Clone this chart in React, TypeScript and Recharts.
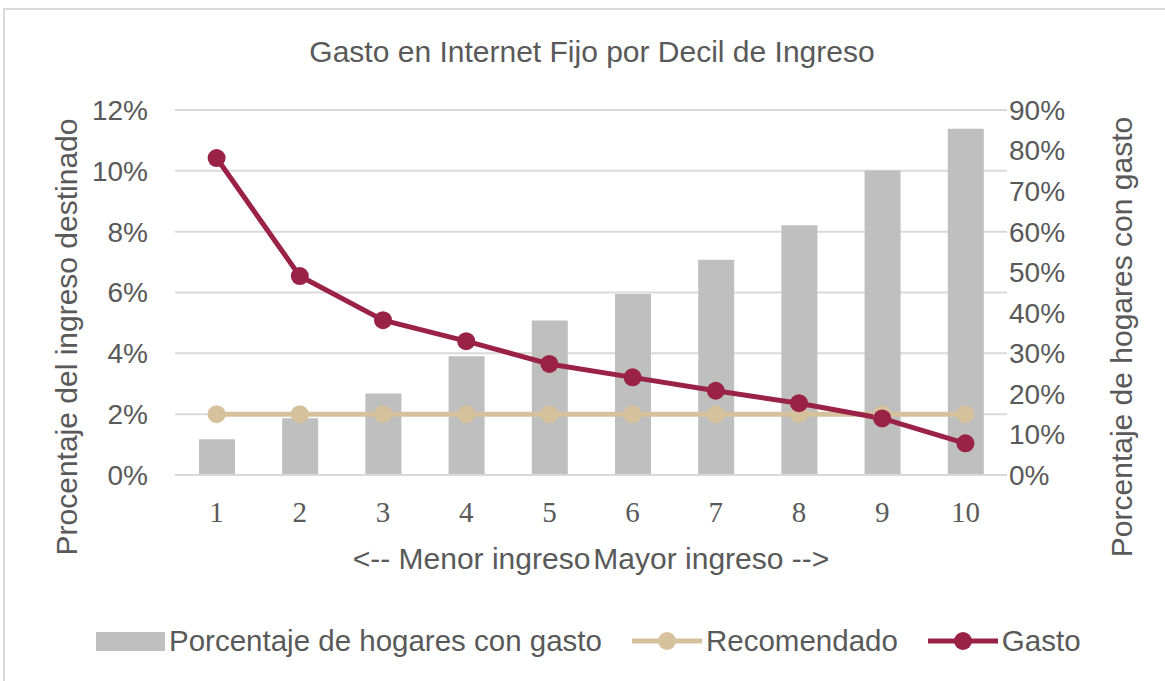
import { ComposedChart, Bar, Line, XAxis, YAxis, CartesianGrid } from 'recharts';

const deciles = ['1', '2', '3', '4', '5', '6', '7', '8', '9', '10'];
const hogaresConGasto = [8.8, 14.0, 20.1, 29.3, 38.1, 44.6, 53.1, 61.6, 75.1, 85.4];
const gasto = [10.42, 6.54, 5.09, 4.4, 3.65, 3.21, 2.77, 2.36, 1.86, 1.04];
const recomendado = [2, 2, 2, 2, 2, 2, 2, 2, 2, 2];
const leftTicks = [0, 2, 4, 6, 8, 10, 12];
const rightTicks = [0, 10, 20, 30, 40, 50, 60, 70, 80, 90];

const data = deciles.map((d, i) => ({
  decil: d,
  hogares: hogaresConGasto[i],
  recomendado: recomendado[i],
  gasto: gasto[i],
}));

const FONT = '"Liberation Sans", Arial, sans-serif';
const TEXT = '#595959';
const GRAY = '#bfbfbf';
const BEIGE = '#d5c29d';
const MAROON = '#9b2247';

const rotatedTitle = (text: string, x: number, y: number) => () => (
  <text
    x={x}
    y={y}
    transform={`rotate(-90 ${x} ${y})`}
    textAnchor="middle"
    dominantBaseline="central"
    fill={TEXT}
    fontSize={30}
    fontFamily={FONT}
  >
    {text}
  </text>
);

const xTitle = () => (
  <text x={591} y={558} textAnchor="middle" dominantBaseline="central" fill={TEXT} fontSize={30} fontFamily={FONT}>
    {'<-- Menor ingreso'}
    <tspan dx={3}>{'Mayor ingreso -->'}</tspan>
  </text>
);

function LegendItem({ kind, color, label }: { kind: 'bar' | 'line'; color: string; label: string }) {
  return (
    <div style={{ display: 'flex', alignItems: 'center', gap: 4 }}>
      {kind === 'bar' ? (
        <div style={{ width: 69, height: 19, background: color }} />
      ) : (
        <svg width={70} height={20}>
          <line x1={0} y1={10} x2={70} y2={10} stroke={color} strokeWidth={5} />
          <circle cx={35} cy={10} r={9} fill={color} />
        </svg>
      )}
      <span style={{ fontSize: 29.5, color: TEXT, fontFamily: FONT, lineHeight: '30px' }}>{label}</span>
    </div>
  );
}

export default function App() {
  return (
    <div style={{ position: 'absolute', left: 0, top: 0, width: 1165, height: 681, background: '#fff', overflow: 'hidden' }}>
      <div
        style={{
          position: 'absolute',
          left: 3,
          top: 8,
          width: 1170,
          height: 690,
          borderTop: '2px solid #d9d9d9',
          borderLeft: '2px solid #d9d9d9',
        }}
      />
      <div
        style={{
          position: 'absolute',
          top: 37,
          left: 0,
          width: 1184,
          textAlign: 'center',
          fontSize: 30,
          color: TEXT,
          fontFamily: FONT,
          lineHeight: '30px',
        }}
      >
        Gasto en Internet Fijo por Decil de Ingreso
      </div>
      <div style={{ position: 'absolute', left: 0, top: 0 }}>
        <ComposedChart
          width={1165}
          height={681}
          data={data}
          margin={{ top: 110, right: 0, bottom: 0, left: 0 }}
        >
          <CartesianGrid yAxisId="left" vertical={false} stroke="#d9d9d9" strokeWidth={2} />
          <XAxis
            dataKey="decil"
            height={206}
            axisLine={{ stroke: '#d9d9d9', strokeWidth: 2 }}
            tickLine={false}
            tickSize={0}
            tickMargin={26}
            tick={{ fill: TEXT, fontSize: 29, fontFamily: '"Liberation Serif", "DejaVu Serif", serif' }}
            label={xTitle}
          />
          <YAxis
            yAxisId="left"
            orientation="left"
            width={175}
            domain={[0, 12]}
            ticks={leftTicks}
            tickFormatter={(v) => `${v}%`}
            axisLine={false}
            tickLine={false}
            tickSize={0}
            tickMargin={27}
            tick={{ fill: TEXT, fontSize: 28, fontFamily: FONT }}
            label={rotatedTitle('Procentaje del ingreso destinado', 66, 337)}
          />
          <YAxis
            yAxisId="right"
            orientation="right"
            width={158}
            domain={[0, 90]}
            ticks={rightTicks}
            tickFormatter={(v) => `${v}%`}
            axisLine={false}
            tickLine={false}
            tickSize={0}
            tickMargin={2}
            tick={{ fill: TEXT, fontSize: 28, fontFamily: FONT }}
            label={rotatedTitle('Porcentaje de hogares con gasto', 1121, 337)}
          />
          <Bar yAxisId="right" dataKey="hogares" fill={GRAY} barSize={36} isAnimationActive={false} />
          <Line
            yAxisId="left"
            dataKey="recomendado"
            stroke={BEIGE}
            strokeWidth={5}
            dot={{ r: 9, fill: BEIGE, stroke: BEIGE, strokeWidth: 0 }}
            activeDot={false}
            isAnimationActive={false}
          />
          <Line
            yAxisId="left"
            dataKey="gasto"
            stroke={MAROON}
            strokeWidth={5}
            dot={{ r: 9, fill: MAROON, stroke: MAROON, strokeWidth: 0 }}
            activeDot={false}
            isAnimationActive={false}
          />
        </ComposedChart>
      </div>
      <div style={{ position: 'absolute', left: 96, top: 626, display: 'flex', alignItems: 'center', gap: 30 }}>
        <LegendItem kind="bar" color={GRAY} label="Porcentaje de hogares con gasto" />
        <LegendItem kind="line" color={BEIGE} label="Recomendado" />
        <LegendItem kind="line" color={MAROON} label="Gasto" />
      </div>
    </div>
  );
}
